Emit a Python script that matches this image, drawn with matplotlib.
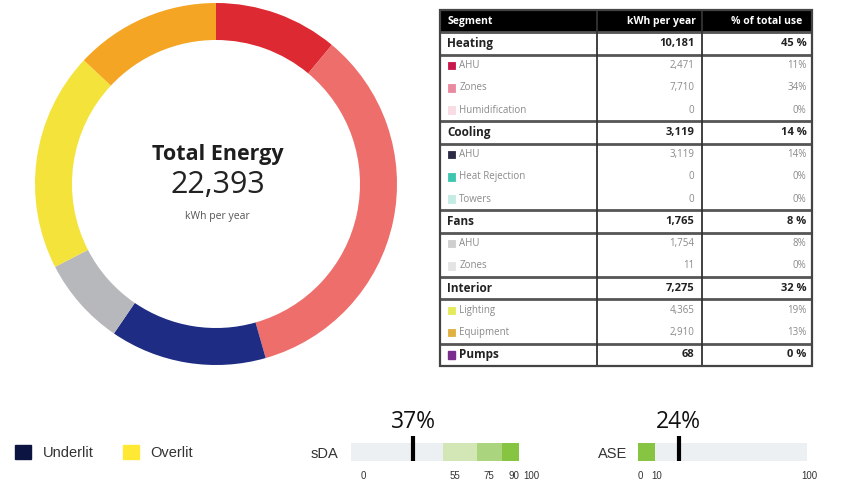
import matplotlib
matplotlib.use("Agg")
import matplotlib.pyplot as plt
from matplotlib.patches import Rectangle, Patch
from matplotlib.transforms import ScaledTranslation

# ---------------- data ----------------
total_kwh = 22393

segment_names = ["Heating", "Cooling", "Fans", "Interior", "Pumps"]
segment_kwh = [10181, 3119, 1765, 7275, 68]
segment_pct = [45, 14, 8, 32, 0]

heating_items = ["AHU", "Zones", "Humidification"]
heating_kwh = [2471, 7710, 0]
heating_pct = [11, 34, 0]

cooling_items = ["AHU", "Heat Rejection", "Towers"]
cooling_kwh = [3119, 0, 0]
cooling_pct = [14, 0, 0]

fans_items = ["AHU", "Zones"]
fans_kwh = [1754, 11]
fans_pct = [8, 0]

interior_items = ["Lighting", "Equipment"]
interior_kwh = [4365, 2910]
interior_pct = [19, 13]

# ring slices: heating AHU, heating zones, cooling AHU, fans, lighting, equipment
donut_kwh = [heating_kwh[0], heating_kwh[1], cooling_kwh[0], segment_kwh[2],
             interior_kwh[0], interior_kwh[1]]
donut_colors = ["#dd2a32", "#ee6e6c", "#1f2c84", "#b7b8bb", "#f4e33a",
                "#f5a524"]

sda_value = 37
sda_bands = [0, 55, 75, 90, 100]
sda_band_colors = ["#edf0f3", "#d3e7b6", "#aad57e", "#87c441"]
sda_ticks = [0, 55, 75, 90, 100]

ase_value = 24
ase_bands = [0, 10, 100]
ase_band_colors = ["#87c441", "#edf0f3"]
ase_ticks = [0, 10, 100]

legend_labels = ["Underlit", "Overlit"]
legend_colors = ["#0c1542", "#ffe935"]

# ---------------- figure ----------------
W, H = 846, 480
fig = plt.figure(figsize=(W / 100, H / 100), dpi=100)


def px_axes(x0, y0, x1, y1):
    return fig.add_axes([x0 / W, 1 - y1 / H, (x1 - x0) / W, (y1 - y0) / H])


# ---------------- donut ----------------
dax = px_axes(35, 3, 397, 365)
dax.pie(donut_kwh, colors=donut_colors, startangle=90, counterclock=False,
        radius=1.0, wedgeprops=dict(width=37 / 181, linewidth=0))
dax.set_xlim(-1, 1)
dax.set_ylim(-1, 1)
dax.set_aspect("equal")
dax.axis("off")
dax.text(0.01, 0.165, "Total Energy", ha="center", va="center",
         family="Open Sans", fontweight="bold", fontsize=15.5, color="#1e1e1e")
dax.text(0.01, -0.005, f"{total_kwh:,}", ha="center", va="center",
         family="Open Sans", fontsize=22, color="#222222")
dax.text(0.01, -0.18, "kWh per year", ha="center", va="center",
         family="Open Sans", fontsize=7.5, color="#555555")

# ---------------- table ----------------
tax = px_axes(440, 10, 812, 366)
tax.set_xlim(0, 1)
tax.set_ylim(16, 0)
tax.axis("off")

sub_colors = {
    "Heating": ["#c8174a", "#e98aa0", "#f8dbe3"],
    "Cooling": ["#2b2b45", "#3ec6b0", "#c4ece5"],
    "Fans": ["#cfcfcf", "#e4e4e4"],
    "Interior": ["#e4ea5a", "#e0b040"],
}
groups = [
    ("Heating", heating_items, heating_kwh, heating_pct),
    ("Cooling", cooling_items, cooling_kwh, cooling_pct),
    ("Fans", fans_items, fans_kwh, fans_pct),
    ("Interior", interior_items, interior_kwh, interior_pct),
    ("Pumps", [], [], []),
]

x_label = 0.019
x_sub_sw = 0.022
x_sub_txt = 0.052
x_val = 0.684
x_pct = 0.985
col1, col2 = 0.422, 0.704

# header
tax.add_patch(Rectangle((0, 0), 1, 1, color="black", zorder=1))
tax.text(x_label, 0.5, "Segment", color="white", fontweight="bold",
         family="Open Sans", fontsize=7.5, va="center", ha="left", zorder=3)
tax.text(x_val + 0.005, 0.5, "kWh per year", color="white", fontweight="bold",
         family="Open Sans", fontsize=7.5, va="center", ha="right", zorder=3)
tax.text(x_pct - 0.01, 0.5, "% of total use", color="white", fontweight="bold",
         family="Open Sans", fontsize=7.5, va="center", ha="right", zorder=3)

row = 1
for gi, (name, items, kwhs, pcts) in enumerate(groups):
    tax.axhline(row, color="#555555", lw=2, zorder=2)
    tax.axhline(row + 1, color="#555555", lw=2, zorder=2)
    yc = row + 0.5
    if name == "Pumps":
        tax.add_patch(Rectangle((x_sub_sw, yc - 0.17), 0.019, 0.34,
                                color="#7b2d8e", zorder=3))
        tax.text(x_sub_txt, yc, name, fontweight="bold", family="Open Sans",
                 fontsize=8.5, va="center", ha="left", color="#222222")
    else:
        tax.text(x_label, yc, name, fontweight="bold", family="Open Sans",
                 fontsize=8.5, va="center", ha="left", color="#222222")
    tax.text(x_val, yc, f"{segment_kwh[gi]:,}", fontweight="bold",
             family="Open Sans", fontsize=8, va="center", ha="right",
             color="#222222")
    tax.text(x_pct, yc, f"{segment_pct[gi]} %", fontweight="bold",
             family="Open Sans", fontsize=8, va="center", ha="right",
             color="#222222")
    row += 1
    for si, (item, kv, pv) in enumerate(zip(items, kwhs, pcts)):
        yc = row + 0.5
        sc = sub_colors[name][si]
        tax.add_patch(Rectangle((x_sub_sw, yc - 0.17), 0.019, 0.34,
                                facecolor=sc, edgecolor=sc, lw=0.6, zorder=3))
        tax.text(x_sub_txt, yc, item, family="Open Sans", fontsize=7,
                 va="center", ha="left", color="#8a8a8a")
        tax.text(x_val, yc, f"{kv:,}", family="Open Sans", fontsize=7,
                 va="center", ha="right", color="#8a8a8a")
        tax.text(x_pct, yc, f"{pv}%", family="Open Sans", fontsize=7,
                 va="center", ha="right", color="#8a8a8a")
        row += 1

tax.axvline(col1, color="#333333", lw=1.3, zorder=2)
tax.axvline(col2, color="#333333", lw=1.3, zorder=2)
tax.add_patch(Rectangle((0, 0), 1, 16, fill=False, edgecolor="#444444",
                        lw=1.6, zorder=4, clip_on=False))

# ---------------- legend ----------------
handles = [Patch(facecolor=c, edgecolor=c) for c in legend_colors]
fig.legend(handles, legend_labels, loc="center left",
           bbox_to_anchor=(15 / W, 1 - 452.5 / H), ncol=2, frameon=False,
           handlelength=1.1, handleheight=1.1, handletextpad=0.8,
           columnspacing=2.0, borderpad=0, borderaxespad=0,
           prop=dict(family="Liberation Sans", size=10.5),
           labelcolor="#333333")


# ---------------- metric bars ----------------
def metric_bar(x0, x1, name, value, bands, colors, ticks, label_dx, name_pad):
    ax = px_axes(x0, 443, x1, 461)
    for lo, hi, c in zip(bands[:-1], bands[1:], colors):
        ax.barh(0.5, hi - lo, left=lo, height=1, color=c, linewidth=0)
    ax.set_xlim(0, 100)
    ax.set_ylim(0, 1)
    for s in ax.spines.values():
        s.set_visible(False)
    ax.set_yticks([0.5], [name])
    ax.tick_params(axis="y", length=0, pad=name_pad, labelsize=10.5,
                   labelcolor="#333333")
    for t in ax.get_yticklabels():
        t.set_family("Liberation Sans")
    ax.set_xticks(ticks, [str(t) for t in ticks])
    ax.tick_params(axis="x", length=0, pad=7.5, labelsize=7,
                   labelcolor="#333333")
    shift = ScaledTranslation(label_dx / 100, 0, fig.dpi_scale_trans)
    for t in ax.get_xticklabels():
        t.set_family("Liberation Sans")
        t.set_transform(t.get_transform() + shift)
    ax.plot([value, value], [0, 1 + 7 / 18], color="black", lw=3,
            solid_capstyle="butt", clip_on=False, zorder=5)
    ax.text(value, 33 / 18, f"{value}%", ha="center", va="baseline",
            family="Open Sans", fontsize=16.5, color="#111111", clip_on=False)
    return ax


metric_bar(351, 519, "sDA", sda_value, sda_bands, sda_band_colors, sda_ticks,
           12, 9)
metric_bar(638, 807, "ASE", ase_value, ase_bands, ase_band_colors, ase_ticks,
           2, 8)

fig.savefig("out.png", dpi=100, facecolor="white")
